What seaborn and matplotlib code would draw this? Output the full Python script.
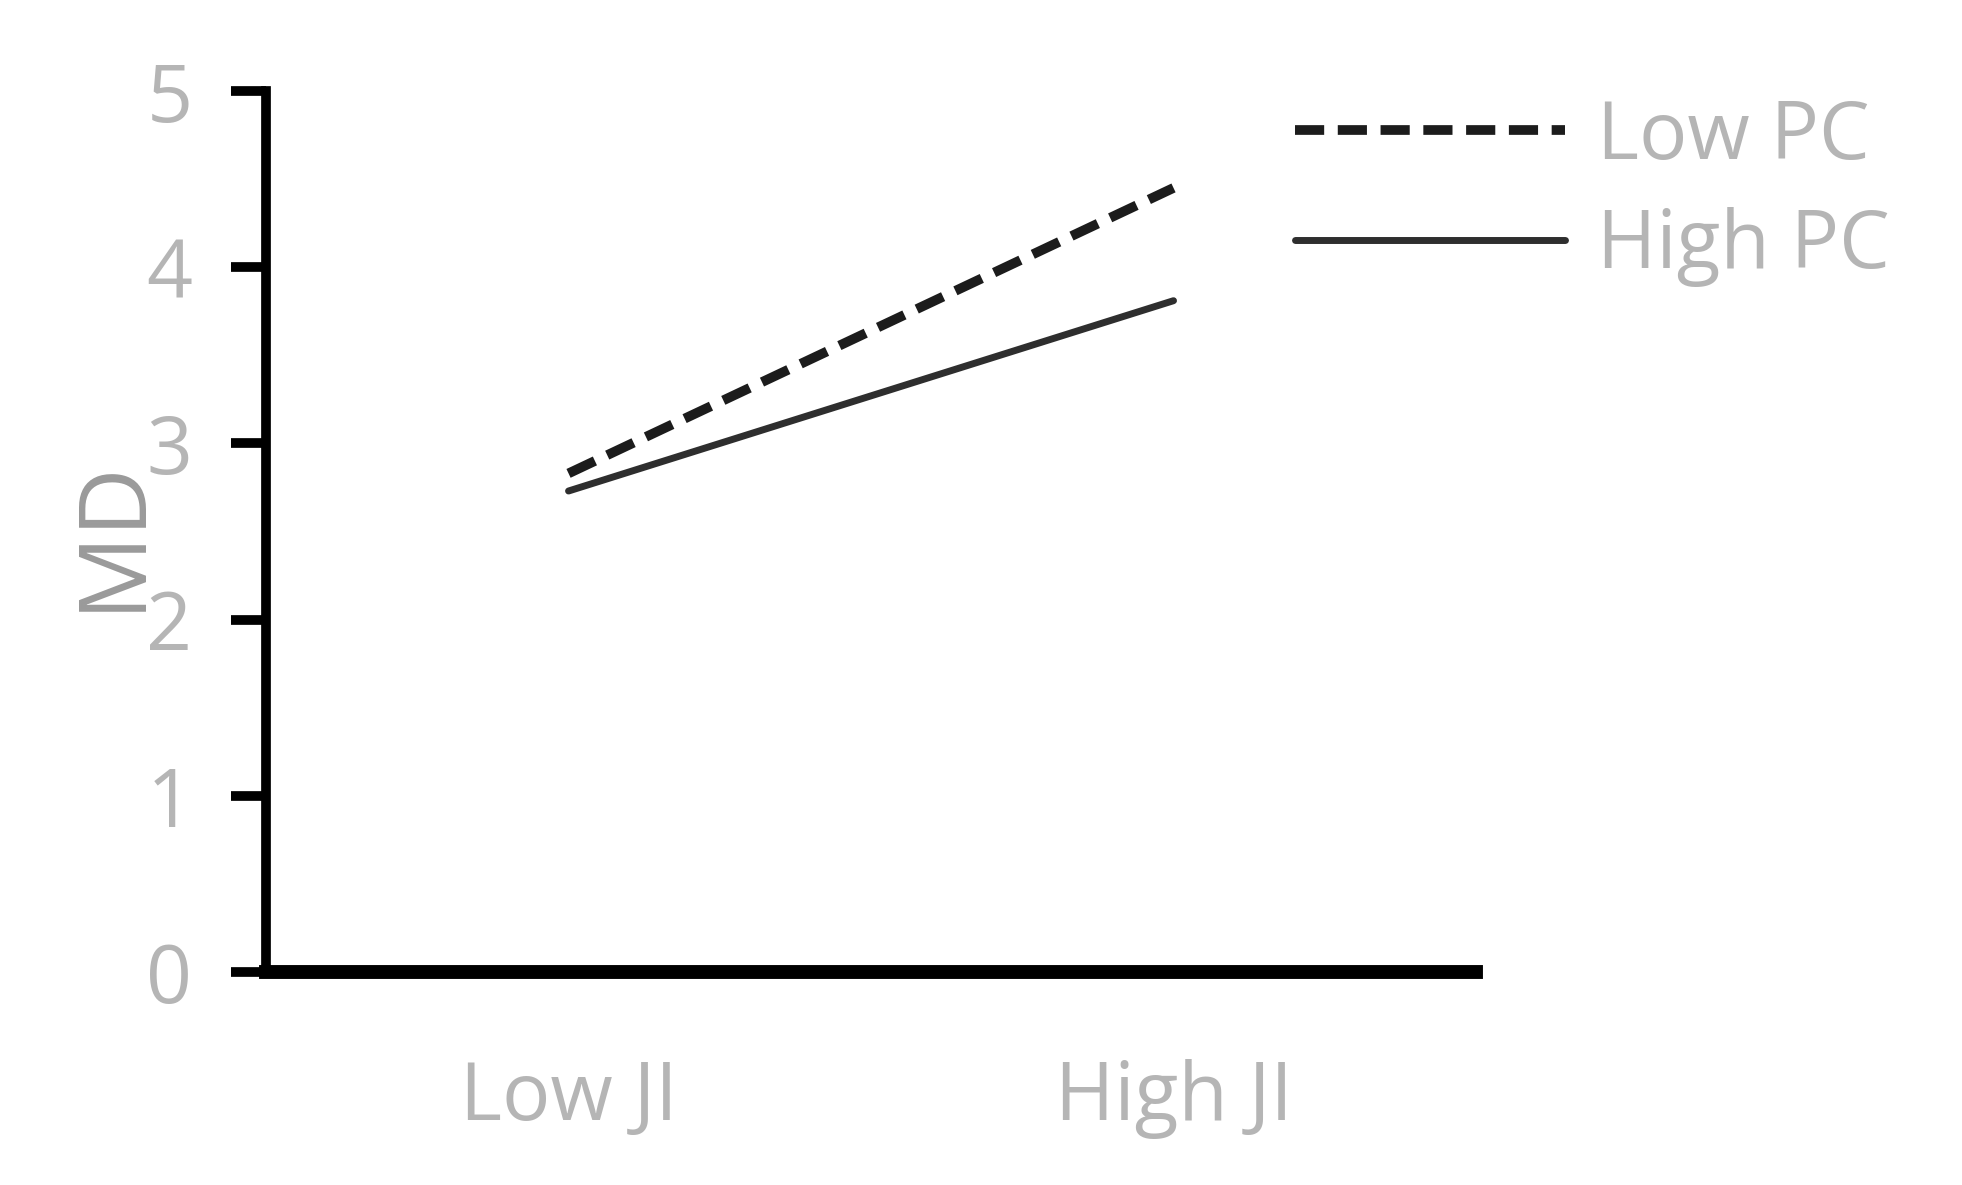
import pandas as pd
import matplotlib.pyplot as plt
import seaborn as sns

# values
ji_levels = ["Low JI", "High JI"]
pc_groups = ["Low PC", "High PC"]
low_pc_md = [2.83, 4.45]
high_pc_md = [2.73, 3.81]
y_ticks = [0, 1, 2, 3, 4, 5]

df = pd.DataFrame({
    "JI": ji_levels * 2,
    "PC": [pc_groups[0]] * 2 + [pc_groups[1]] * 2,
    "MD": low_pc_md + high_pc_md,
})

sns.set_theme(style="white")
plt.rcParams['font.family'] = ['Open Sans', 'DejaVu Sans']

fig = plt.figure(figsize=(19.62, 11.85), dpi=100)
ax = fig.add_axes([0.1356, 0.1797, 0.6167, 0.7435])

sns.lineplot(
    data=df, x="JI", y="MD", hue="PC", style="PC",
    hue_order=pc_groups, style_order=pc_groups,
    palette={"Low PC": "#1c1c1c", "High PC": "#2e2e2e"},
    dashes={"Low PC": (3, 1.4), "High PC": ""},
    legend=False, ax=ax,
)

lines = ax.get_lines()
lines[0].set_linewidth(7)
lines[1].set_linewidth(5)

ax.set_xlim(-0.5, 1.5)
ax.set_ylim(0, 5)
ax.set_yticks(y_ticks)
ax.set_xlabel("")

tick_grey = "#b5b5b5"
ax.tick_params(axis="y", direction="out", length=25, width=7, color="black",
               labelsize=58, labelcolor=tick_grey, pad=28, left=True)
ax.tick_params(axis="x", length=0, labelsize=58, labelcolor=tick_grey, pad=62)

for s in ["top", "right"]:
    ax.spines[s].set_visible(False)
ax.spines["left"].set_color("black")
ax.spines["left"].set_linewidth(7)
ax.spines["bottom"].set_color("black")
ax.spines["bottom"].set_linewidth(10)

ax.set_ylabel("MD", fontsize=68, color="#9a9a9a")
ax.yaxis.label.set_va("center")
ax.yaxis.label.set_ha("center")
ax.yaxis.set_label_coords(-0.126, 0.497)

fig.legend(
    lines, pc_groups, loc="upper left", bbox_to_anchor=(0.66, 0.918),
    frameon=False, fontsize=58, labelcolor=tick_grey,
    handlelength=3.35, handletextpad=0.4, borderpad=0, borderaxespad=0,
    labelspacing=0.36,
)

fig.savefig("out.png", dpi=100)
